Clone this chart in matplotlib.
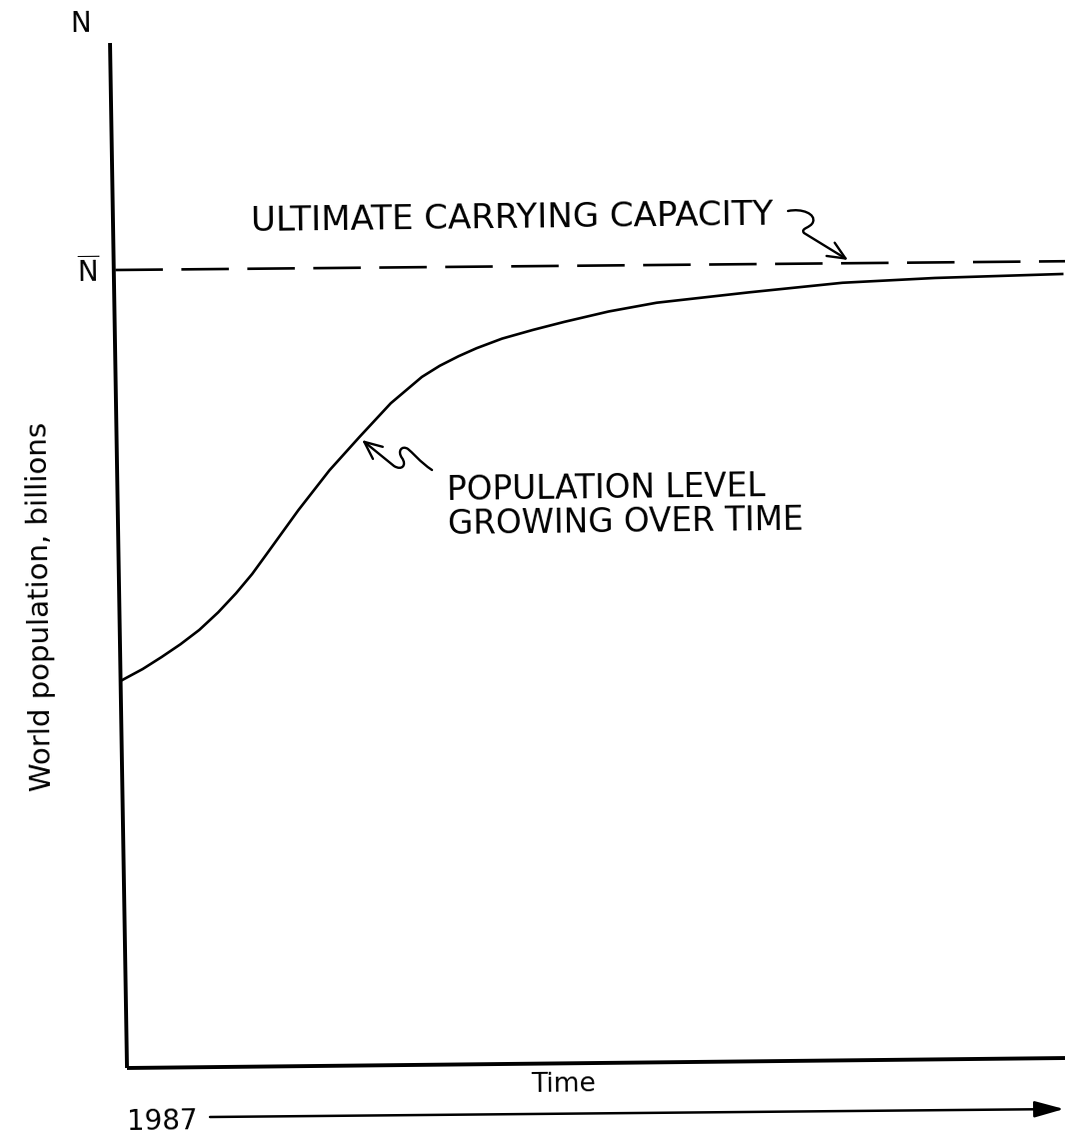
import matplotlib
matplotlib.use('Agg')
import matplotlib.pyplot as plt
from matplotlib.patches import FancyArrowPatch
from matplotlib.path import Path

# Picture size in pixels
W, H = 1065, 1137

# Logistic growth (time in arbitrary units, N-bar = 10)
time = [0, 2.2, 4.2, 6.2, 8.2, 10.2, 12.1, 13.8, 15.4, 18.7, 22.0, 25.2,
        28.5, 31.8, 33.7, 35.7, 37.6, 40.3, 43.6, 46.9, 51.6, 56.7, 66.5,
        76.4, 86.2, 99.7]
population = [4.86, 5.00, 5.15, 5.31, 5.49, 5.71, 5.95, 6.19, 6.45, 6.99,
              7.49, 7.91, 8.33, 8.66, 8.80, 8.92, 9.02, 9.14, 9.25, 9.35,
              9.48, 9.59, 9.72, 9.84, 9.90, 9.95]

# Ultimate carrying capacity (the scanned line leans a little)
capacity_time = [-0.7, 100]
capacity_level = [10.0, 10.11]

Y_LABEL = 'World population, billions'
X_LABEL = 'Time'
START_YEAR = '1987'
CAPACITY_NOTE = 'ULTIMATE CARRYING CAPACITY'
CURVE_NOTE = ['POPULATION LEVEL', 'GROWING OVER TIME']

TILT = 0.7  # the scan is rotated slightly


def fx(x):
    return x / W


def fy(y):
    return 1 - y / H


def fig_path(points, codes):
    return Path([(fx(x), fy(y)) for x, y in points], codes)


plt.rcParams['font.family'] = ['DejaVu Sans']

fig = plt.figure(figsize=(W / 100, H / 100), dpi=100)
ax = fig.add_axes([fx(122), fy(1068), fx(1065) - fx(122), fy(43) - fy(1068)])
ax.set_xlim(0, 100)
ax.set_ylim(0, (1068 - 43) / 79.8)
ax.axis('off')

# hand drawn axes
ax.plot([-1.27, 0.53], [(1068 - 43) / 79.8, 0], color='black', lw=2.8,
        clip_on=False, solid_capstyle='butt')
ax.plot([0.53, 100], [0, 0.125], color='black', lw=2.8, clip_on=False,
        solid_capstyle='butt')

ax.plot(capacity_time, capacity_level, color='black', lw=1.9,
        dashes=(18, 7), clip_on=False)
ax.plot(time, population, color='black', lw=1.9, clip_on=False,
        solid_joinstyle='round')

txt = dict(color='black', rotation=TILT, rotation_mode='anchor')
fig.text(fx(81), fy(32), 'N', fontsize=20, ha='center', va='baseline', **txt)
fig.text(fx(88), fy(282), r'$\overline{\mathrm{N}}$', fontsize=20,
         ha='center', va='baseline', **txt)
fig.text(fx(512), fy(228), CAPACITY_NOTE, fontsize=24.5, ha='center',
         va='baseline', **txt)
fig.text(fx(447), fy(474), '\n'.join(CURVE_NOTE), fontsize=23.5, ha='left',
         va='top', multialignment='left', linespacing=1.05, **txt)
fig.text(fx(41), fy(607), Y_LABEL, fontsize=21, ha='center', va='center',
         rotation=90 + TILT, rotation_mode='anchor')
fig.text(fx(563), fy(1092), X_LABEL, fontsize=19, ha='center',
         va='baseline', **txt)
fig.text(fx(127), fy(1130), START_YEAR, fontsize=20, ha='left',
         va='baseline', **txt)

# time arrow under the axis
fig.add_artist(FancyArrowPatch((fx(210), fy(1117)), (fx(1064), fy(1109)),
                               arrowstyle='-|>,head_length=0.9,head_width=0.25',
                               mutation_scale=20, lw=1.8, color='black',
                               shrinkA=0, shrinkB=0,
                               transform=fig.transFigure))

# squiggly pointer to the carrying capacity line
C4, MV, LN = Path.CURVE4, Path.MOVETO, Path.LINETO
cap_pts = [(788, 211), (802, 208), (816, 214), (813, 222),
           (811, 228), (800, 228), (804, 233), (848, 260)]
cap_codes = [MV, C4, C4, C4, C4, C4, C4, LN]
fig.add_artist(FancyArrowPatch(path=fig_path(cap_pts, cap_codes),
                               arrowstyle='->,head_length=0.9,head_width=0.4',
                               mutation_scale=14, lw=1.7, color='black',
                               transform=fig.transFigure))

# squiggly pointer to the growth curve
pop_pts = [(432, 470), (420, 462), (412, 452), (408, 449),
           (402, 445), (397, 451), (402, 458),
           (407, 465), (402, 471), (394, 466), (362, 440)]
pop_codes = [MV, C4, C4, C4, C4, C4, C4, C4, C4, C4, LN]
fig.add_artist(FancyArrowPatch(path=fig_path(pop_pts, pop_codes),
                               arrowstyle='->,head_length=0.9,head_width=0.4',
                               mutation_scale=14, lw=1.7, color='black',
                               transform=fig.transFigure))

fig.savefig('out.png', dpi=100, facecolor='w')
